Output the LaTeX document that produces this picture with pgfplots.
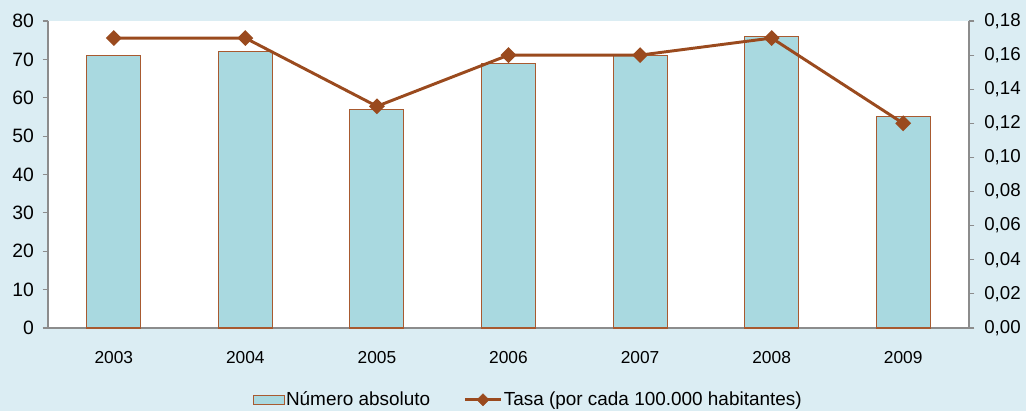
\documentclass[border=0pt]{standalone}
\usepackage{pgfplots}
\pgfplotsset{compat=1.18}
\usepackage{fontspec}
\setmainfont{Liberation Sans}
\definecolor{bg}{HTML}{DBEDF3}
\definecolor{barfill}{HTML}{A9D9E0}
\definecolor{baredge}{HTML}{A85A30}
\definecolor{linec}{HTML}{9A4A1E}
\definecolor{axisgray}{HTML}{8C8C8C}
\begin{document}
\begin{tikzpicture}
\fill[bg] (0pt,0pt) rectangle (769.5pt,308.25pt);
\begin{axis}[
  at={(36pt,62.25pt)}, anchor=south west,
  scale only axis, width=690.75pt, height=230.25pt,
  xmin=-0.5, xmax=6.5, ymin=0, ymax=80,
  axis x line*=bottom, axis y line*=left,
  axis line style={axisgray, line width=0.8pt},
  axis background/.style={fill=white},
  xtick={0,...,6},
  xticklabels={2003,2004,2005,2006,2007,2008,2009},
  x tick style={draw=none},
  xticklabel style={font=\fontsize{13}{13}\selectfont, yshift=-10pt},
  ytick={0,10,...,80},
  y tick style={axisgray, line width=0.8pt},
  tick align=outside, major tick length=4pt,
  yticklabel style={font=\fontsize{14.5}{14.5}\selectfont, xshift=-3pt},
  /pgf/number format/assume math mode=true,
  legend style={at={(0.521,-0.234)}, anchor=center, draw=none, fill=none,
    font=\fontsize{14.2}{14.2}\selectfont, legend columns=2,
    /tikz/every even column/.append style={column sep=24pt},
    nodes={inner xsep=1pt}},
  legend cell align=left,
]
\addplot[ybar, bar width=40.5pt, fill=barfill, draw=baredge, line width=0.8pt,
  legend image code/.code={\draw[fill=barfill, draw=baredge, line width=0.8pt] (0pt,-3.6pt) rectangle (23.25pt,3.6pt);}]
  coordinates {(0,71) (1,72) (2,57) (3,69) (4,71) (5,76) (6,55)};
\addlegendentry{Número absoluto}
\addlegendimage{legend image code/.code={
  \draw[linec, line width=2.2pt] (0pt,0pt) -- (27pt,0pt);
  \fill[linec] (13.5pt,4.5pt) -- (18pt,0pt) -- (13.5pt,-4.5pt) -- (9pt,0pt) -- cycle;}}
\addlegendentry{Tasa (por cada 100.000 habitantes)}
\end{axis}
\begin{axis}[
  at={(36pt,62.25pt)}, anchor=south west,
  scale only axis, width=690.75pt, height=230.25pt,
  xmin=-0.5, xmax=6.5, ymin=0, ymax=0.18,
  axis x line=none, axis y line*=right,
  axis line style={axisgray, line width=0.8pt},
  ytick={0,0.02,...,0.181},
  y tick style={axisgray, line width=0.8pt},
  tick align=outside, major tick length=4pt,
  yticklabel style={font=\fontsize{14}{14}\selectfont, xshift=4pt,
    /pgf/number format/.cd, fixed, fixed zerofill, precision=2, use comma},
  /pgf/number format/assume math mode=true,
]
\addplot[linec, line width=2.2pt, mark=square*, mark size=3.1pt, mark options={rotate=45}]
  coordinates {(0,0.17) (1,0.17) (2,0.13) (3,0.16) (4,0.16) (5,0.17) (6,0.12)};
\end{axis}
\end{tikzpicture}
\end{document}
